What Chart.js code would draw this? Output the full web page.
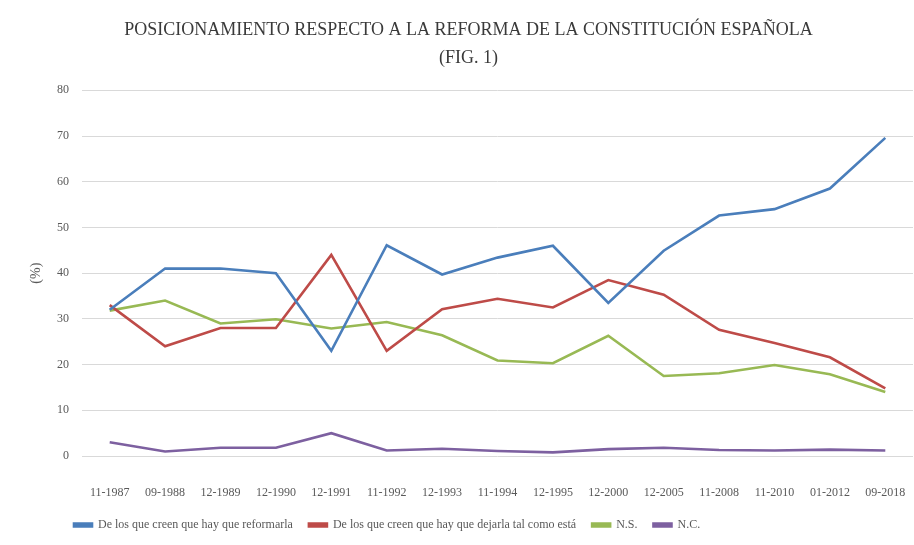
<!DOCTYPE html>
<html>
<head>
<meta charset="utf-8">
<script src="https://cdn.jsdelivr.net/npm/chart.js@4"></script>
<style>
  body { margin: 0; background: #fff; }
  #wrap { width: 914px; height: 545px; position: relative; }
</style>
</head>
<body>
<div id="wrap"><canvas id="grafico"></canvas></div>
<script>
// --- DONNEES ---
const fechas = ['11-1987', '09-1988', '12-1989', '12-1990', '12-1991', '11-1992', '12-1993', '11-1994',
                '12-1995', '12-2000', '12-2005', '11-2008', '11-2010', '01-2012', '09-2018'];
const reformarla = [32, 41, 41, 40, 23, 46.1, 39.7, 43.4, 46, 33.5, 44.9, 52.6, 54, 58.5, 69.6];
const dejarla = [33, 24, 28, 28, 44, 23, 32.1, 34.4, 32.5, 38.5, 35.3, 27.6, 24.7, 21.6, 14.8];
const noSabe = [31.8, 34, 29, 29.9, 27.9, 29.3, 26.4, 20.9, 20.3, 26.3, 17.5, 18.1, 19.9, 17.9, 14];
const noContesta = [3, 1, 1.8, 1.8, 5, 1.2, 1.6, 1.1, 0.8, 1.5, 1.8, 1.3, 1.2, 1.4, 1.2];
const ticksY = [0, 10, 20, 30, 40, 50, 60, 70, 80];

const police = "'Liberation Serif', 'DejaVu Serif', serif";
const gris = '#595959';

const serie = (label, data, color) => ({
    label, data,
    borderColor: color, backgroundColor: color,
    borderWidth: 2.6, pointRadius: 0, tension: 0, fill: false
});

// petit decalage de la legende vers la droite (comme dans l'original)
const decalerLegende = {
    id: 'decalerLegende',
    afterLayout(chart) {
        chart.legend.left += 34;
        chart.legend.right += 34;
    }
};

new Chart(document.getElementById('grafico').getContext('2d'), {
    type: 'line',
    data: {
        labels: fechas,
        datasets: [
            serie('De los que creen que hay que reformarla', reformarla, '#4a7ebb'),
            serie('De los que creen que hay que dejarla tal como está', dejarla, '#be4b48'),
            serie('N.S.', noSabe, '#98b954'),
            serie('N.C.', noContesta, '#7d60a0')
        ]
    },
    options: {
        responsive: true,
        maintainAspectRatio: false,
        animation: false,
        layout: { padding: { left: 24, right: 1, top: 0, bottom: 4 } },
        plugins: {
            title: {
                display: true,
                text: ['POSICIONAMIENTO RESPECTO A LA REFORMA DE LA CONSTITUCIÓN ESPAÑOLA', '(FIG. 1)'],
                color: '#3a3a3a',
                font: { family: police, size: 18, weight: 'normal', lineHeight: 1.55 },
                padding: { top: 16, bottom: 18.5 }
            },
            legend: {
                position: 'bottom',
                align: 'start',
                labels: {
                    color: gris,
                    font: { family: police, size: 12 },
                    boxWidth: 18, boxHeight: 3,
                    padding: 16
                }
            },
            tooltip: { enabled: false }
        },
        scales: {
            x: {
                offset: true,
                afterFit(scale) {
                    scale.height = 47;
                    scale.paddingLeft = 0;
                    scale.paddingRight = 0;
                },
                grid: { display: false, drawTicks: false },
                border: { display: false },
                ticks: { color: gris, font: { family: police, size: 12 }, padding: 30, maxRotation: 0, autoSkip: false }
            },
            y: {
                min: 0, max: 80,
                afterFit(scale) { scale.width = 58; },
                afterBuildTicks(scale) { scale.ticks = ticksY.map(v => ({ value: v })); },
                grid: { color: '#d9d9d9', lineWidth: 1, drawTicks: false },
                border: { display: false },
                title: { display: true, text: '(%)', color: gris, font: { family: police, size: 14 } },
                ticks: { color: gris, font: { family: police, size: 12 }, padding: 13 }
            }
        }
    },
    plugins: [decalerLegende]
});
</script>
</body>
</html>
